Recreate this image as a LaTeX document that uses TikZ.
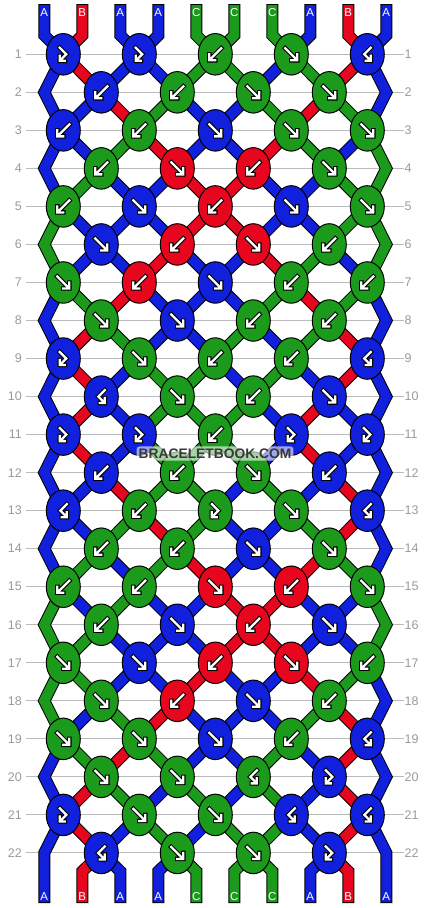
\documentclass[tikz,border=0pt]{standalone}
\usepackage{fontspec}
\setmainfont{Liberation Sans}
\usetikzlibrary{shapes.geometric}
\pgfdeclarelayer{bg}
\pgfdeclarelayer{fg}
\pgfsetlayers{bg,main,fg}
\definecolor{colA}{HTML}{1020DD}
\definecolor{colB}{HTML}{E8061F}
\definecolor{colC}{HTML}{1C9A1C}
\definecolor{rowgrey}{HTML}{BBBBBB}
\definecolor{labgrey}{HTML}{9A9A9A}
\definecolor{wmgrey}{HTML}{383838}

\newcommand\knotarrow[2]{\csname karrow#1\endcsname{#2}}
\newcommand\karrowf[1]{\begin{scope}[shift={(#1.center)}]
  \draw[arrowout] (-6,-6) -- (5.2,5.2) (6,0) -- (6,6) -- (0,6);
  \draw[arrowin] (-6,-6) -- (5.2,5.2) (6,0) -- (6,6) -- (0,6);
\end{scope}}
\newcommand\karrowb[1]{\begin{scope}[shift={(#1.center)},xscale=-1]
  \draw[arrowout] (-6,-6) -- (5.2,5.2) (6,0) -- (6,6) -- (0,6);
  \draw[arrowin] (-6,-6) -- (5.2,5.2) (6,0) -- (6,6) -- (0,6);
\end{scope}}
\newcommand\karrowfb[1]{\begin{scope}[shift={(#1.center)}]
  \draw[arrowout] (-3.5,-6.5) -- (3,0) -- (-3,6) (-3.5,1.5) -- (-3.5,6.5) -- (1.5,6.5);
  \draw[arrowin] (-3.5,-6.5) -- (3,0) -- (-3,6) (-3.5,1.5) -- (-3.5,6.5) -- (1.5,6.5);
\end{scope}}
\newcommand\karrowbf[1]{\begin{scope}[shift={(#1.center)},xscale=-1]
  \draw[arrowout] (-3.5,-6.5) -- (3,0) -- (-3,6) (-3.5,1.5) -- (-3.5,6.5) -- (1.5,6.5);
  \draw[arrowin] (-3.5,-6.5) -- (3,0) -- (-3,6) (-3.5,1.5) -- (-3.5,6.5) -- (1.5,6.5);
\end{scope}}

\begin{document}
\begin{tikzpicture}[x=1pt,y=-1pt,
  knot/.style={ellipse, draw=black, line width=1pt, minimum width=34pt, minimum height=41.5pt, inner sep=0pt},
  thread/.style={draw=black, line width=1pt, double=#1, double distance=10pt, line cap=rect, line join=miter},
  arrowout/.style={draw=black, line width=4.4pt, line cap=rect, line join=miter},
  arrowin/.style={draw=white, line width=2.3pt, line cap=rect, line join=miter},
  rowlab/.style={text=labgrey, font=\fontsize{12.5}{14}\selectfont, inner sep=0pt},
  strlab/.style={text=white, font=\fontsize{11.5}{13}\selectfont, inner sep=0pt},
  rowline/.style={draw=rowgrey, line width=1pt},
  wm/.style={font=\fontsize{13.8}{16}\selectfont\bfseries, inner sep=0pt}]
\useasboundingbox (0,0) rectangle (430,908);
\begin{pgfonlayer}{bg}
\fill[white] (0,0) rectangle (430,908);
\end{pgfonlayer}

% row guides and labels
\foreach \r in {1,...,22}{
  \pgfmathsetmacro\yy{54.3+38.03*(\r-1)}
  \coordinate (L-\r) at (44.3,\yy);
  \coordinate (R-\r) at (386.3,\yy);
  \node[rowlab,anchor=east] (ll-\r) at (22,\yy) {\r};
  \node[rowlab,anchor=west] (lr-\r) at (404.5,\yy) {\r};
  \begin{pgfonlayer}{bg}
  \draw[rowline] (26,\yy) -- (404,\yy);
  \end{pgfonlayer}
}

% string ends and letters
\foreach \c [count=\j] in {A,B,A,A,C,C,C,A,B,A}{
  \pgfmathsetmacro\xx{44.3+38*(\j-1)}
  \coordinate (T-\j) at (\xx,10);
  \coordinate (B-\j) at (\xx,897);
  \coordinate (Bb-\j) at (\xx,871.3);
  \node[strlab] (tl-\j) at (\xx,12.8) {\c};
  \node[strlab] (bl-\j) at (\xx,896.5) {\c};
}

% knots
\foreach \r/\ks in {
 1/{A/fb,A/fb,C/b,C/f,A/bf},
 2/{A/b,C/b,C/f,C/f},
 3/{A/b,C/b,A/f,C/f,C/f},
 4/{C/b,B/f,B/b,C/f},
 5/{C/b,A/f,B/b,A/f,C/f},
 6/{A/f,B/b,B/f,C/b},
 7/{C/f,B/b,A/f,C/b,C/b},
 8/{C/f,A/f,C/b,C/b},
 9/{A/fb,C/f,C/b,C/b,A/bf},
 10/{A/bf,C/f,C/b,A/f},
 11/{A/fb,A/fb,C/b,A/fb,A/fb},
 12/{A/b,C/b,C/f,A/b},
 13/{A/bf,C/b,C/fb,C/f,A/bf},
 14/{C/b,C/b,A/f,C/f},
 15/{C/b,C/b,B/f,B/b,C/f},
 16/{C/b,A/f,B/b,A/f},
 17/{C/f,A/f,B/b,B/f,C/b},
 18/{C/f,B/b,A/f,C/b},
 19/{C/f,C/f,A/f,C/b,A/bf},
 20/{C/f,C/f,C/bf,A/fb},
 21/{A/fb,C/f,C/f,A/bf,A/bf},
 22/{A/bf,C/f,C/f,A/fb}}{
  \pgfmathsetmacro\yy{54.3+38.03*(\r-1)}
  \pgfmathsetmacro\xo{mod(\r,2)==1 ? 63.3 : 101.3}
  \foreach \c/\t [count=\n] in \ks {
    \node[knot, fill=col\c] (k-\r-\n) at ({\xo+76*(\n-1)},\yy) {};
    \knotarrow{\t}{k-\r-\n}
  }
}

% threads
\begin{pgfonlayer}{bg}
\foreach \c [count=\j] in {A,B,A,A,C,C,C,A,B,A}{
  \pgfmathtruncatemacro\n{(\j+1)/2}
  \draw[thread=col\c] (T-\j) -- ++(0,25.3) -- (k-1-\n.center);
}
\foreach \c [count=\j] in {A,B,A,A,C,C,C,A,B,A}{
  \ifnum\j>1\relax\ifnum\j<10\relax
    \pgfmathtruncatemacro\m{\j/2}
    \draw[thread=col\c] (k-22-\m.center) -- (Bb-\j) -- (B-\j);
  \fi\fi
}
\foreach \r/\s in {
 1/{A,B,A,A,C,C,A,C,B,A},
 2/{A,A,B,C,A,A,C,B,C,A},
 3/{A,A,C,B,A,A,B,C,A,C},
 4/{A,C,A,A,B,B,A,A,C,C},
 5/{C,A,A,A,B,B,A,A,C,C},
 6/{C,A,A,B,A,A,B,C,A,C},
 7/{A,C,B,A,A,A,C,B,C,A},
 8/{A,B,C,A,A,C,A,C,B,A},
 9/{A,B,A,C,C,A,C,A,B,A},
 10/{A,B,A,C,C,C,A,B,A,A},
 11/{A,B,A,C,C,C,A,B,A,A},
 12/{A,A,B,C,C,A,C,A,B,A},
 13/{A,A,C,B,C,A,A,C,B,A},
 14/{A,C,A,C,B,A,A,B,C,A},
 15/{C,A,C,A,A,B,B,A,A,C},
 16/{C,C,A,A,A,B,B,A,A,C},
 17/{C,C,A,A,B,A,A,B,C,A},
 18/{C,A,C,B,A,A,A,C,B,A},
 19/{A,C,B,C,A,A,C,A,B,A},
 20/{A,B,C,A,C,A,C,A,B,A},
 21/{A,B,A,C,A,C,C,A,B,A}}{
  \pgfmathtruncatemacro\rn{\r+1}
  \pgfmathtruncatemacro\rnn{\r+2}
  \foreach \c [count=\j] in \s {
    \ifnum\j=1\relax
      \ifodd\r\relax
        \ifnum\r<21\relax
          \draw[thread=col\c] (k-\r-1.center) -- (L-\rn) -- (k-\rnn-1.center);
        \else
          \draw[thread=col\c] (k-\r-1.center) -- (L-\rn) -- (B-1);
        \fi
      \fi
    \else\ifnum\j=10\relax
      \ifodd\r\relax
        \ifnum\r<21\relax
          \draw[thread=col\c] (k-\r-5.center) -- (R-\rn) -- (k-\rnn-5.center);
        \else
          \draw[thread=col\c] (k-\r-5.center) -- (R-\rn) -- (B-10);
        \fi
      \fi
    \else
      \ifodd\r\relax
        \pgfmathtruncatemacro\na{(\j+1)/2}\pgfmathtruncatemacro\nb{\j/2}
      \else
        \pgfmathtruncatemacro\na{\j/2}\pgfmathtruncatemacro\nb{(\j+1)/2}
      \fi
      \draw[thread=col\c] (k-\r-\na.center) -- (k-\rn-\nb.center);
    \fi\fi
  }
}
\end{pgfonlayer}

% watermark (text on top layer, faint white glow under it)
\begin{pgfonlayer}{fg}
\node[wm, text=wmgrey] (wm) at (215,453.5) {BRACELETBOOK.COM};
\end{pgfonlayer}
\fill[white, opacity=0.6, rounded corners=3pt]
  ([xshift=-2pt,yshift=-2pt]wm.south west) rectangle ([xshift=2pt,yshift=2pt]wm.north east);
\end{tikzpicture}
\end{document}
